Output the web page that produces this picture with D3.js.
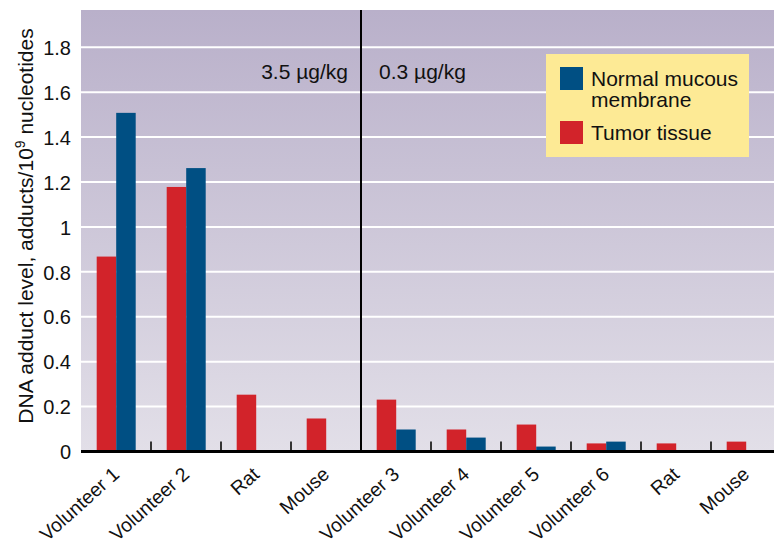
<!DOCTYPE html>
<html>
<head>
<meta charset="utf-8">
<script src="https://cdn.jsdelivr.net/npm/d3@7"></script>
<style>
  html, body { margin: 0; padding: 0; background: #fff; }
  svg text { font-family: "Liberation Sans", Arial, sans-serif; fill: #111; }
</style>
</head>
<body>
<svg id="chart" width="774" height="544"></svg>
<script>
const categories = ["Volunteer 1", "Volunteer 2", "Rat", "Mouse", "Volunteer 3", "Volunteer 4", "Volunteer 5", "Volunteer 6", "Rat", "Mouse"];
const tumorTissue = [0.868, 1.178, 0.253, 0.147, 0.231, 0.098, 0.12, 0.036, 0.036, 0.044];
const normalMucous = [1.508, 1.262, null, null, 0.098, 0.062, 0.022, 0.044, null, null];
const yTicks = [0, 0.2, 0.4, 0.6, 0.8, 1, 1.2, 1.4, 1.6, 1.8];
const doseLabels = ["3.5 \u00b5g/kg", "0.3 \u00b5g/kg"];
const seriesNames = ["Normal mucous membrane", "Tumor tissue"];

(function () {
const svg = d3.select("#chart");
const W = 774, H = 544;
const pL = 81, pT = 10, pR = 781, pB = 451.5;

const defs = svg.append("defs");
const grad = defs.append("linearGradient").attr("id", "bg").attr("x1", 0).attr("y1", 0).attr("x2", 0).attr("y2", 1);
grad.append("stop").attr("offset", "0%").attr("stop-color", "#b9b0ca");
grad.append("stop").attr("offset", "100%").attr("stop-color", "#e2dfe8");
defs.append("clipPath").attr("id", "clip").append("rect").attr("x", 0).attr("y", 0).attr("width", W).attr("height", H);

const idx = categories.map((d, i) => i);
const x = d3.scaleBand().domain(idx).range([pL, pR]).padding(0);
const inner = d3.scaleBand().domain(["tumor", "normal"]).range([15.7, 54.7]).padding(0);
const y = d3.scaleLinear().domain([0, 1.966]).range([pB, pT]);

const g = svg.append("g").attr("clip-path", "url(#clip)");

g.append("rect").attr("x", pL).attr("y", pT).attr("width", pR - pL).attr("height", pB - pT).attr("fill", "url(#bg)");

// gridlines
g.selectAll("line.grid").data(yTicks.filter(d => d > 0)).enter().append("line")
  .attr("x1", pL).attr("x2", pR)
  .attr("y1", d => y(d)).attr("y2", d => y(d))
  .attr("stroke", "#ffffff").attr("stroke-width", 2);

// bars
const rows = idx.map(i => ({ i, tumor: tumorTissue[i], normal: normalMucous[i] }));
const colors = { tumor: "#d2232a", normal: "#004f83" };
rows.forEach(r => {
  ["tumor", "normal"].forEach(k => {
    if (r[k] == null) return;
    g.append("rect")
      .attr("x", x(r.i) + inner(k))
      .attr("y", y(r[k]))
      .attr("width", inner.bandwidth())
      .attr("height", y(0) - y(r[k]))
      .attr("fill", colors[k]);
  });
});

// category separator ticks
const seps = idx.slice(1).filter(i => i !== 4);
g.selectAll("line.sep").data(seps).enter().append("line")
  .attr("x1", d => x(d)).attr("x2", d => x(d))
  .attr("y1", pB - 10).attr("y2", pB)
  .attr("stroke", "#333").attr("stroke-width", 2);

// divider
g.append("line").attr("x1", x(4)).attr("x2", x(4)).attr("y1", pT).attr("y2", pB)
  .attr("stroke", "#000").attr("stroke-width", 2);

// baseline
g.append("line").attr("x1", pL).attr("x2", pR).attr("y1", pB).attr("y2", pB)
  .attr("stroke", "#000").attr("stroke-width", 3);

// dose labels
svg.append("text").attr("x", x(4) - 13).attr("y", 79).attr("text-anchor", "end")
  .style("font-size", "21px").text(doseLabels[0]);
svg.append("text").attr("x", x(4) + 18).attr("y", 79).attr("text-anchor", "start")
  .style("font-size", "21px").text(doseLabels[1]);

// y axis tick labels
const yAxis = d3.axisLeft(y).tickValues(yTicks).tickSize(0).tickPadding(0).tickFormat(d => d3.format("")(d));
const ya = svg.append("g").attr("transform", "translate(71,0)").call(yAxis);
ya.select(".domain").remove();
ya.selectAll("text").style("font-size", "20px").attr("fill", "#111").attr("font-family", "Liberation Sans, Arial, sans-serif").attr("dy", "0.36em");

// y axis title
const yt = svg.append("text").attr("transform", "translate(33,226) rotate(-90)").attr("text-anchor", "middle")
  .style("font-size", "21px");
yt.append("tspan").text("DNA adduct level, adducts/10");
yt.append("tspan").attr("baseline-shift", "super").style("font-size", "14px").text("9");
yt.append("tspan").text(" nucleotides");

// x labels
svg.selectAll("text.xl").data(idx).enter().append("text")
  .attr("class", "xl")
  .attr("transform", d => `translate(${x(d) + x.bandwidth() / 2 + 4.5},${476}) rotate(-42)`)
  .attr("text-anchor", "end")
  .style("font-size", "19.5px")
  .text(d => categories[d]);

// legend
const lg = svg.append("g");
lg.append("rect").attr("x", 546).attr("y", 54).attr("width", 203).attr("height", 103).attr("fill", "#fdea95");
lg.append("rect").attr("x", 560).attr("y", 67).attr("width", 23).attr("height", 23).attr("fill", colors.normal);
lg.append("rect").attr("x", 560).attr("y", 121).attr("width", 23).attr("height", 23).attr("fill", colors.tumor);
const words = seriesNames[0].split(" ");
lg.append("text").attr("x", 591).attr("y", 86).style("font-size", "21px").text(words.slice(0, 2).join(" "));
lg.append("text").attr("x", 591).attr("y", 107).style("font-size", "21px").text(words.slice(2).join(" "));
lg.append("text").attr("x", 591).attr("y", 140).style("font-size", "21px").text(seriesNames[1]);
})();
</script>
</body>
</html>
